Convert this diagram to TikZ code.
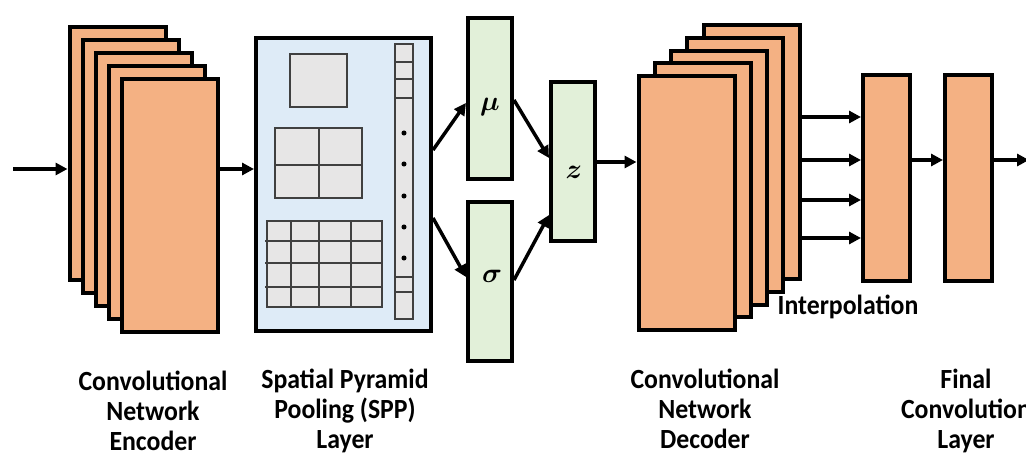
\documentclass[tikz,border=0pt]{standalone}
\usepackage{amsmath,bm}
\usepackage{fontspec}
\setmainfont{Carlito}
\newfontfamily\labfont[FakeStretch=0.93]{Carlito}
\usetikzlibrary{arrows.meta}
\definecolor{orangefill}{HTML}{F4B183}
\definecolor{bluefill}{HTML}{DEEBF7}
\definecolor{greenfill}{HTML}{E2F0D9}
\definecolor{grayfill}{HTML}{E7E6E6}
\definecolor{gridcol}{HTML}{404040}
\begin{document}
\begin{tikzpicture}[x=0.75pt,y=-0.75pt,
  box/.style={draw=black, line width=3pt, rectangle, inner sep=0pt},
  orangebox/.style={box, fill=orangefill},
  layerbox/.style={orangebox, minimum width=72pt, minimum height=189.75pt},
  declayer/.style={orangebox, minimum width=72pt, minimum height=190.5pt},
  thinbox/.style={orangebox, minimum width=35.25pt, minimum height=154.5pt},
  greenbox/.style={box, fill=greenfill, minimum width=33pt},
  sppbox/.style={box, fill=bluefill, minimum width=131.25pt, minimum height=219.75pt},
  gridbox/.style={draw=gridcol, fill=grayfill, line width=1pt},
  gridln/.style={draw=gridcol, line width=1pt},
  arr/.style={line width=2.6pt, -{Triangle[length=9pt,width=9pt]}},
  lab/.style={font=\labfont\bfseries\fontsize{20.8}{22.5}\selectfont, align=center, inner sep=0pt},
  mathlab/.style={font=\fontsize{21}{24}\selectfont, inner sep=0pt}
]
\useasboundingbox (0,0) rectangle (1026,457);

% encoder stack
\foreach \k in {0,...,4}{
  \node[layerbox] (enc\k) at ({117.5+13*\k},{153.5+13*\k}) {};
}
\coordinate (in) at (13,169);
\draw[arr] (in) -- (in -| enc0.west);

% SPP layer
\node[sppbox] (spp) at (343.5,184.5) {};
\draw[arr] (enc4.east |- in) -- (spp.west |- in);
\draw[gridbox] (290,54) rectangle (347,107);
\draw[gridbox] (275,128) rectangle (362,198);
\draw[gridln] (319,128) -- (319,198) (275,165) -- (362,165);
\draw[gridbox] (267,221) rectangle (382,307);
\foreach \c in {291,319,351}{ \draw[gridln] (\c,221) -- (\c,307); }
\foreach \r in {241,263,287}{ \draw[gridln] (265,\r) -- (382,\r); }
\draw[gridbox] (395,44) rectangle (413,319);
\foreach \r in {62,79,98,277,292}{ \draw[gridln] (395,\r) -- (413,\r); }
\foreach \r in {133,164,196,227,258}{ \fill (404,\r) circle (1.9pt); }

% latent
\node[greenbox, minimum height=120.75pt] (mu) at (490,98.5) {};
\node[greenbox, minimum height=119.25pt] (sigma) at (490,281.5) {};
\node[greenbox, minimum height=119.25pt] (z) at (573,161.5) {};
\node[mathlab] (mulab) at (490,107) {$\bm{\mu}$};
\node[mathlab] (sigmalab) at (492,276) {$\bm{\sigma}$};
\node[mathlab] (zlab) at (574,172) {$\bm{z}$};
\draw[arr] (spp.east |- 0,150) -- (mu.west |- 0,103);
\draw[arr] (spp.east |- 0,218) -- (sigma.west |- 0,277);
\draw[arr] (mu.east |- 0,100) -- (z.west |- 0,158);
\draw[arr] (sigma.east |- 0,280) -- (z.west |- 0,215);

% decoder stack
\foreach \k in {4,3,2,1,0}{
  \node[declayer] (dec\k) at ({686.5+16.25*\k},{203-12.75*\k}) {};
}
\draw[arr] (z.east |- 0,162) -- (dec0.west |- 0,162);

% interpolation and final layers
\node[thinbox] (interp) at (886.5,178) {};
\node[thinbox] (final) at (968.5,178) {};
\foreach \r in {117,160,200,238}{
  \draw[arr] (dec4.east |- 0,\r) -- (interp.west |- 0,\r);
}
\draw[arr] (interp.east |- 0,160) -- (final.west |- 0,160);
\coordinate (out) at (1029,160);
\draw[arr] (final.east |- out) -- (out);
\node[lab] (interplab) at (848,307) {Interpolation};

% captions
\node[lab] (enclab) at (153,411) {Convolutional\\Network\\Encoder};
\node[lab] (spplab) at (345,411) {Spatial Pyramid\\Pooling (SPP)\\Layer};
\node[lab] (declab) at (705,409) {Convolutional\\Network\\Decoder};
\node[lab] (finallab) at (966,411) {Final\\Convolution\\Layer};
\end{tikzpicture}
\end{document}
